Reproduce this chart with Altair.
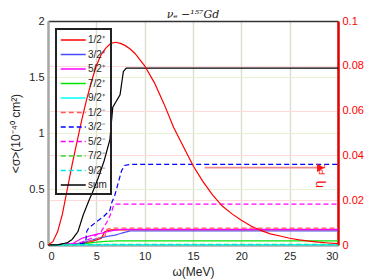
import altair as alt
import pandas as pd

# ---------------- data ----------------
labels = ["1/2⁺", "3/2⁺", "5/2⁺", "7/2⁺", "9/2⁺",
          "1/2⁻", "3/2⁻", "5/2⁻", "7/2⁻", "9/2⁻", "sum"]
colors = ["#ff0000", "#4b4bff", "#ff00ff", "#00e600", "#00ffff",
          "#ff5a5a", "#0000ff", "#ff00ff", "#33dd33", "#00e6e6", "#000000"]
dashes = [[1, 0]] * 5 + [[5, 3]] * 5 + [[1, 0]]

x_12p = [0, 3, 4.5, 5.5, 5.9, 6.5, 30]
y_12p = [0, 0.01, 0.03, 0.06, 0.12, 0.135, 0.135]
x_32p = [0, 3, 4, 5, 6, 7, 8, 8.5, 30]
y_32p = [0, 0.01, 0.03, 0.055, 0.075, 0.09, 0.115, 0.125, 0.125]
x_52p = [0, 2.5, 3.5, 4.5, 5.5, 6.5, 7.5, 30]
y_52p = [0, 0.01, 0.06, 0.085, 0.105, 0.125, 0.14, 0.14]
x_72p = [0, 3, 4, 5, 6, 7, 30]
y_72p = [0, 0.005, 0.015, 0.025, 0.033, 0.036, 0.036]
x_92p = [0, 4, 6, 30]
y_92p = [0, 0.002, 0.004, 0.004]
x_12m = [0, 3, 4.5, 5.5, 5.9, 6.1, 6.5, 30]
y_12m = [0, 0.005, 0.04, 0.07, 0.08, 0.14, 0.15, 0.15]
x_32m = [0, 3, 3.9, 4.0, 4.2, 4.9, 5.7, 6.4, 6.6, 6.9, 7.6, 7.9, 8.5, 30]
y_32m = [0, 0.005, 0.02, 0.12, 0.15, 0.2, 0.25, 0.31, 0.38, 0.44, 0.66, 0.71, 0.72, 0.72]
x_52m = [0, 3, 4.5, 5.5, 6.2, 6.6, 6.8, 7.0, 30]
y_52m = [0, 0.01, 0.06, 0.12, 0.22, 0.3, 0.36, 0.365, 0.365]
x_72m = [0, 4, 6, 30]
y_72m = [0, 0.003, 0.006, 0.006]
x_92m = [0, 5, 30]
y_92m = [0, 0.002, 0.002]
x_sum = [0, 1, 2, 2.5, 3.1, 3.65, 4.2, 4.5, 4.7, 5.2, 5.8, 6.4, 6.7, 7.45, 7.8, 8.1, 30]
y_sum = [0, 0.002, 0.02, 0.05, 0.12, 0.27, 0.39, 0.45, 0.49, 0.6, 0.75, 0.94, 1.23, 1.34, 1.55, 1.58, 1.58]

series_x = [x_12p, x_32p, x_52p, x_72p, x_92p, x_12m, x_32m, x_52m, x_72m, x_92m, x_sum]
series_y = [y_12p, y_32p, y_52p, y_72p, y_92p, y_12m, y_32m, y_52m, y_72m, y_92m, y_sum]

eta_x = [0, 0.5, 1, 1.5, 2, 2.5, 3, 3.5, 4, 4.5, 5, 5.5, 6, 6.5, 7, 7.5, 8, 8.5, 9,
         10, 11, 12, 13, 14, 15, 16, 17, 18, 19, 20, 21, 22, 23, 24, 25, 26, 27, 28, 29, 30]
eta_y = [0, 0.0015, 0.006, 0.014, 0.025, 0.036, 0.046, 0.056, 0.065, 0.073, 0.080, 0.085,
         0.088, 0.090, 0.0905, 0.090, 0.089, 0.0875, 0.0855, 0.080, 0.0725, 0.063, 0.0525,
         0.044, 0.0355, 0.0285, 0.0225, 0.0175, 0.014, 0.011, 0.0085, 0.0065, 0.005,
         0.004, 0.003, 0.00225, 0.00175, 0.00125, 0.0009, 0.0006]

x_ticks = [0, 5, 10, 15, 20, 25, 30]
y_ticks = [0, 0.5, 1, 1.5, 2]
y2_ticks = [0, 0.02, 0.04, 0.06, 0.08, 0.1]

title_text = "νₑ −¹⁵⁷Gd"
title_pos = (15.0, 0.1)
arrow_x = [16.2, 28.0]
arrow_y = [0.0345, 0.0345]
arrow_head = (28.2, 0.0345)
eta_label = (28.0, 0.0255)
pl_label = (28.3, 0.0312)

rows = []
for lab, xs, ys in zip(labels, series_x, series_y):
    for i, (a, b) in enumerate(zip(xs, ys)):
        rows.append({"series": lab, "omega": a, "sigma": b, "order": i})
df = pd.DataFrame(rows)
eta_df = pd.DataFrame({"omega": eta_x, "eta": eta_y})
arrow_df = pd.DataFrame({"omega": arrow_x, "eta": arrow_y})
head_df = pd.DataFrame({"omega": [arrow_head[0]], "eta": [arrow_head[1]]})
eta_lab_df = pd.DataFrame({"omega": [eta_label[0]], "eta": [eta_label[1]], "t": ["η"]})
pl_lab_df = pd.DataFrame({"omega": [pl_label[0]], "eta": [pl_label[1]], "t": ["PL"]})
title_df = pd.DataFrame({"omega": [title_pos[0]], "eta": [title_pos[1]], "t": [title_text]})

FONT = "Liberation Sans"
xscale = alt.Scale(domain=[0, 30], nice=False, zero=False)

# ---------------- left layer ----------------
left = alt.Chart(df).mark_line(strokeWidth=1.2).encode(
    x=alt.X("omega:Q", scale=xscale,
            axis=alt.Axis(values=x_ticks, title="ω(MeV)", grid=True, gridColor="#dcdcd2",
                          gridWidth=1.5, domainColor="#a8a8a8", domainWidth=2.5, ticks=False,
                          labelFontSize=11, labelPadding=5, labelColor="#262626",
                          titleFontSize=12, titleFontWeight="normal", titlePadding=5,
                          titleColor="#262626", labelFont=FONT, titleFont=FONT)),
    y=alt.Y("sigma:Q", scale=alt.Scale(domain=[0, 2], nice=False),
            axis=alt.Axis(values=y_ticks, format="~g", title="<σ>(10⁻⁴⁰ cm²)", grid=True,
                          gridColor="#e6f2d6", gridWidth=1.2, domainColor="#a8a8a8",
                          domainWidth=2.5, ticks=False, labelFontSize=11, labelPadding=4,
                          labelColor="#262626", titleFontSize=12, titleFontWeight="normal",
                          titlePadding=6, titleColor="#262626", labelFont=FONT, titleFont=FONT)),
    color=alt.Color("series:N", scale=alt.Scale(domain=labels, range=colors),
                    legend=alt.Legend(title=None, orient="top-left", offset=8,
                                      symbolType="M-1,0L3,0", symbolStrokeWidth=1.5,
                                      symbolSize=156, labelFontSize=10, labelFont=FONT,
                                      labelColor="#262626", padding=4, rowPadding=2.5,
                                      strokeColor="#222222", fillColor="transparent",
                                      symbolFillColor="transparent",
                                      labelOffset=14)),
    strokeDash=alt.StrokeDash("series:N", scale=alt.Scale(domain=labels, range=dashes),
                              legend=None),
    order="order:Q",
)

# ---------------- right layer ----------------
yr = alt.Scale(domain=[0, 0.1], nice=False)
top_axis = alt.Axis(orient="top", values=x_ticks, labels=False, ticks=False, grid=False,
                    title=None, domainColor="#333333", domainWidth=1.5)
right_axis = alt.Axis(orient="right", values=y2_ticks, format="~g", title=None, grid=True,
                      gridColor="#ffd9d9", gridWidth=1.2, domainColor="#e00000",
                      domainWidth=2.5, ticks=False, labelColor="#ff0000", labelFontSize=11,
                      labelPadding=4, labelFont=FONT)

eta_line = alt.Chart(eta_df).mark_line(color="#ff0000", strokeWidth=1.2).encode(
    x=alt.X("omega:Q", scale=xscale, axis=top_axis),
    y=alt.Y("eta:Q", scale=yr, axis=right_axis),
)
arrow = alt.Chart(arrow_df).mark_line(color="#f28c8c", strokeWidth=1.8).encode(
    x=alt.X("omega:Q", scale=xscale), y=alt.Y("eta:Q", scale=yr))
head = alt.Chart(head_df).mark_point(shape="triangle-right", filled=True, color="#ff1a1a",
                                     size=70, opacity=1).encode(
    x=alt.X("omega:Q", scale=xscale), y=alt.Y("eta:Q", scale=yr))
eta_t = alt.Chart(eta_lab_df).mark_text(angle=270, align="left", baseline="middle",
                                        fontSize=13, color="#ff0000", font=FONT).encode(
    x=alt.X("omega:Q", scale=xscale), y=alt.Y("eta:Q", scale=yr), text="t:N")
pl_t = alt.Chart(pl_lab_df).mark_text(angle=270, align="left", baseline="middle",
                                      fontSize=9, color="#ff0000", font=FONT).encode(
    x=alt.X("omega:Q", scale=xscale), y=alt.Y("eta:Q", scale=yr), text="t:N")
title_t = alt.Chart(title_df).mark_text(align="center", baseline="alphabetic", dy=-3,
                                        fontSize=11, font="DejaVu Serif", fontStyle="italic",
                                        color="#222222").encode(
    x=alt.X("omega:Q", scale=xscale), y=alt.Y("eta:Q", scale=yr), text="t:N")

right = alt.layer(eta_line, arrow, head, eta_t, pl_t, title_t)

chart = alt.layer(left, right).resolve_scale(y="independent").resolve_axis(
    x="independent").properties(
    width=290, height=224,
    autosize=alt.AutoSizeParams(type="none"),
    padding={"left": 40, "top": 13, "right": 28, "bottom": 35},
).configure_view(stroke=None).configure_legend(strokeWidth=2)

chart.save("out.html", embed_options={"renderer": "svg", "actions": False})
